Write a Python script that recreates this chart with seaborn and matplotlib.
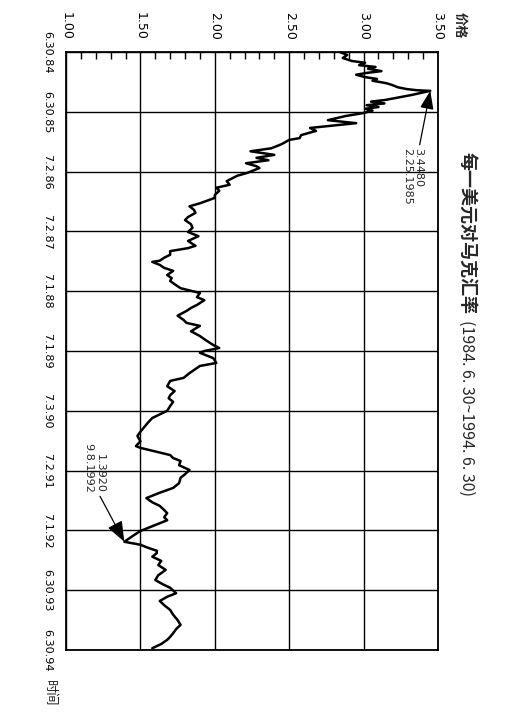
import matplotlib
matplotlib.use("Agg")
import numpy as np
import pandas as pd
import matplotlib.pyplot as plt
import seaborn as sns
from matplotlib.ticker import MultipleLocator

# USD/DEM rate (decimal year, marks per dollar)
years = [
    1984.50, 1984.55, 1984.60, 1984.65, 1984.68, 1984.72, 1984.75, 1984.78, 1984.82, 1984.85,
    1984.88, 1984.92, 1984.95, 1984.98, 1985.02, 1985.05, 1985.09, 1985.12, 1985.14, 1985.15,
    1985.22, 1985.30, 1985.33, 1985.36, 1985.39, 1985.42, 1985.45, 1985.48, 1985.52,
    1985.57, 1985.64, 1985.69, 1985.77, 1985.82, 1985.89, 1985.94, 1985.97, 1986.04, 1986.11,
    1986.16, 1986.22, 1986.27, 1986.31, 1986.36, 1986.41, 1986.44, 1986.52, 1986.57, 1986.66,
    1986.72, 1986.77, 1986.82, 1986.89, 1986.94, 1987.03, 1987.08, 1987.14, 1987.19, 1987.26,
    1987.31, 1987.38, 1987.44, 1987.51, 1987.58, 1987.66, 1987.74, 1987.78, 1987.83, 1987.89,
    1987.94, 1987.99, 1988.01, 1988.06, 1988.11, 1988.16, 1988.23, 1988.28, 1988.33, 1988.40,
    1988.45, 1988.50, 1988.53, 1988.60, 1988.65, 1988.73, 1988.78, 1988.83, 1988.91, 1988.98,
    1989.03, 1989.08, 1989.17, 1989.25, 1989.32, 1989.40, 1989.45, 1989.50, 1989.53, 1989.62,
    1989.70, 1989.75, 1989.87, 1989.95, 1990.00, 1990.09, 1990.17, 1990.24, 1990.29, 1990.35,
    1990.42, 1990.50, 1990.62, 1990.70, 1990.79, 1990.85, 1990.92, 1991.01, 1991.09, 1991.12,
    1991.24, 1991.29, 1991.34, 1991.41, 1991.49, 1991.56, 1991.62, 1991.71, 1991.79, 1991.87,
    1991.96, 1992.03, 1992.09, 1992.16, 1992.21, 1992.28, 1992.33, 1992.43, 1992.51, 1992.59,
    1992.69, 1992.74, 1992.79, 1992.84, 1992.88, 1992.94, 1993.01, 1993.08, 1993.16, 1993.25,
    1993.33, 1993.40, 1993.46, 1993.55, 1993.61, 1993.68, 1993.75, 1993.83, 1993.91, 1994.00,
    1994.08, 1994.15, 1994.22, 1994.28, 1994.33, 1994.40, 1994.47,
]
prices = [
    2.84, 2.89, 2.86, 2.92, 3.01, 2.97, 3.08, 3.03, 3.12, 3.02,
    2.95, 3.01, 3.09, 3.06, 3.15, 3.19, 3.23, 3.29, 3.36, 3.448,
    3.32, 3.15, 3.05, 3.14, 3.02, 3.10, 3.01, 3.06, 3.00,
    2.88, 2.76, 2.95, 2.64, 2.68, 2.58, 2.57, 2.50, 2.45, 2.38,
    2.24, 2.40, 2.28, 2.36, 2.21, 2.28, 2.30, 2.22, 2.15, 2.08,
    2.10, 2.01, 2.03, 2.00, 2.00, 1.90, 1.83, 1.86, 1.87, 1.82,
    1.80, 1.84, 1.85, 1.82, 1.89, 1.82, 1.87, 1.82, 1.70, 1.70,
    1.66, 1.63, 1.58, 1.63, 1.66, 1.72, 1.68, 1.71, 1.70, 1.74,
    1.77, 1.85, 1.90, 1.88, 1.93, 1.88, 1.84, 1.81, 1.75, 1.79,
    1.81, 1.90, 1.84, 1.90, 1.94, 1.99, 2.03, 1.93, 1.90, 1.99,
    2.01, 1.90, 1.83, 1.79, 1.70, 1.68, 1.73, 1.70, 1.69, 1.72,
    1.70, 1.68, 1.58, 1.55, 1.52, 1.50, 1.48, 1.50, 1.47, 1.50,
    1.70, 1.72, 1.77, 1.76, 1.83, 1.80, 1.77, 1.76, 1.72, 1.63,
    1.54, 1.58, 1.63, 1.66, 1.68, 1.66, 1.68, 1.58, 1.50, 1.45,
    1.392, 1.50, 1.55, 1.61, 1.61, 1.58, 1.64, 1.62, 1.67, 1.62,
    1.60, 1.65, 1.70, 1.74, 1.68, 1.63, 1.66, 1.70, 1.72, 1.75,
    1.77, 1.74, 1.72, 1.70, 1.68, 1.64, 1.58,
]

price_ticks = [1.00, 1.50, 2.00, 2.50, 3.00, 3.50]
price_labels = ["1.00", "1.50", "2.00", "2.50", "3.00", "3.50"]
date_ticks = [1984.5, 1985.5, 1986.5, 1987.5, 1988.5, 1989.5,
              1990.5, 1991.5, 1992.5, 1993.5, 1994.5]
date_labels = ["6.30.84", "6.30.85", "7.2.86", "7.2.87", "7.1.88", "7.1.89",
               "7.3.90", "7.2.91", "7.1.92", "6.30.93", "6.30.94"]

# annotated extremes
peak = (3.448, 1985.15)
low = (1.392, 1992.69)

df = pd.DataFrame({"year": years, "price": prices})

sns.set_style("white")
plt.rcParams["font.family"] = ["DejaVu Sans", "Noto Sans CJK SC"]
cjk = ["Noto Sans CJK SC", "DejaVu Sans"]

# the printed chart is turned a quarter turn clockwise: time runs down, price runs right
fig = plt.figure(figsize=(5.08, 7.14), dpi=100)
ax = fig.add_axes([66 / 508, 1 - 650 / 714, 372 / 508, 598 / 714])

sns.lineplot(data=df, x="price", y="year", orient="y", sort=False, estimator=None,
             color="black", lw=1.8, ax=ax)

ax.set_xlim(1.0, 3.5)
ax.set_ylim(1994.5, 1984.5)
ax.set_xlabel("")
ax.set_ylabel("")

ax.xaxis.tick_top()
ax.set_xticks(price_ticks, price_labels)
ax.xaxis.set_minor_locator(MultipleLocator(0.1))
ax.tick_params(axis="x", which="major", top=True, bottom=False, labeltop=True,
               labelbottom=False, direction="in", length=0, pad=8.5,
               labelrotation=-90, labelsize=9, colors="black")
ax.tick_params(axis="x", which="minor", top=True, bottom=False, direction="in",
               length=5, width=1, color="black")

ax.set_yticks(date_ticks, date_labels)
ax.tick_params(axis="y", which="both", length=0, pad=10, labelrotation=-90,
               labelsize=8, colors="black")
for lbl in ax.get_yticklabels():
    lbl.set_va("center")

ax.grid(True, which="major", color="black", lw=1.0)
for sp in ax.spines.values():
    sp.set_color("black")
    sp.set_linewidth(1.3)

ax.annotate("3.4480\n2.25.1985", xy=peak, xytext=(3.329, 1986.105),
            rotation=-90, ha="center", va="top", multialignment="left", fontsize=8,
            arrowprops=dict(arrowstyle="-|>,head_length=0.8,head_width=0.3",
                            color="black", lw=0.9, shrinkA=0, shrinkB=0,
                            mutation_scale=14, relpos=(0.8, 1.0)))
ax.annotate("1.3920\n9.8.1992", xy=low, xytext=(1.188, 1991.875),
            rotation=-90, ha="center", va="bottom", multialignment="right", fontsize=8,
            arrowprops=dict(arrowstyle="-|>,head_length=0.9,head_width=0.35",
                            color="black", lw=0.9, shrinkA=0, shrinkB=0,
                            mutation_scale=14, relpos=(0.7, 0.0)))

fig.text(460 / 508, 1 - 12 / 714, "价格", rotation=-90, ha="center", va="top",
         fontsize=9.5, fontweight="bold", family=cjk)
fig.text(49 / 508, 1 - 680 / 714, "时间", rotation=-90, ha="center", va="top",
         fontsize=9.5, family=cjk)

fig.text(467 / 508, 1 - 152 / 714, "每一美元对马克汇率", rotation=-90, ha="center",
         va="top", fontsize=13, fontweight="bold", family=cjk)
fig.text(467 / 508, 1 - 320 / 714, "(1984. 6. 30~1994. 6. 30)", rotation=-90,
         ha="center", va="top", fontsize=11.5, family=cjk)

fig.savefig("out.png", dpi=100)
